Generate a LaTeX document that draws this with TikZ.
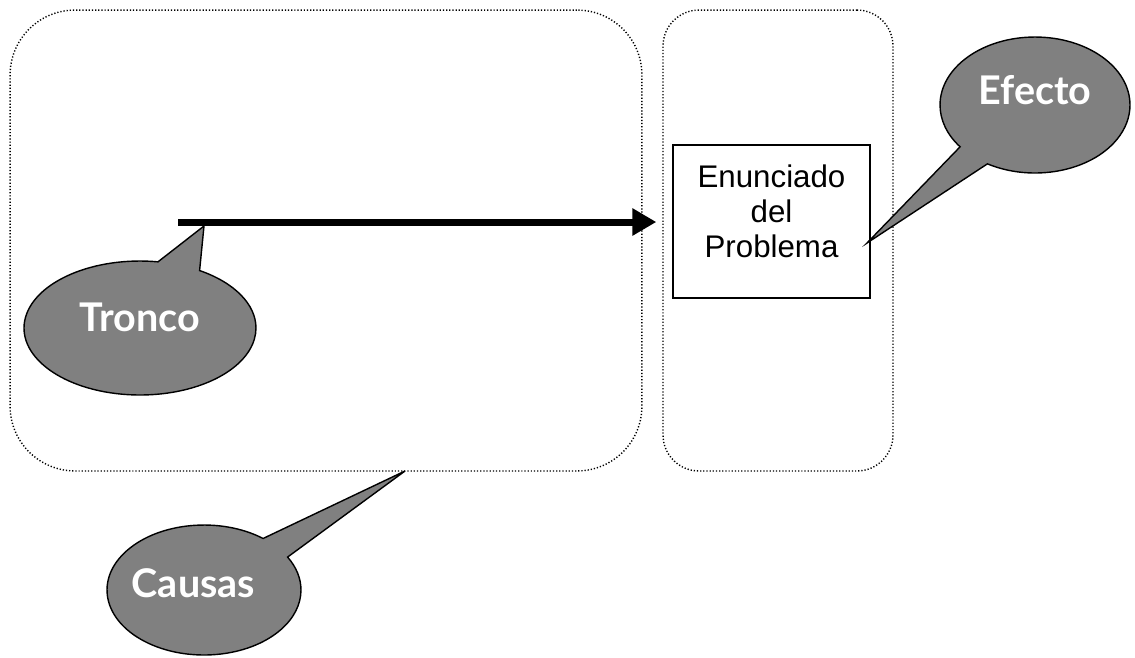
\documentclass[tikz,border=0pt]{standalone}
\usepackage{fontspec}
\setmainfont{Liberation Sans}
\newfontfamily\bubblefont{Lato}
\usetikzlibrary{shapes.callouts,arrows.meta}

\definecolor{bubblegray}{HTML}{808080}

\tikzset{
  region/.style={draw, line width=0.8pt, dash pattern=on 0.7pt off 1.1pt, rectangle},
  bubble/.style={ellipse callout, draw, line width=0.8pt, fill=bubblegray, text=white,
    font=\bubblefont\bfseries\fontsize{22.5}{26}\selectfont, inner sep=0pt, callout pointer arc=22},
  statement/.style={draw, line width=0.8pt, align=center, inner sep=0pt,
    font=\fontsize{17.8}{19.9}\selectfont}
}

\begin{document}
\begin{tikzpicture}[x=0.02cm, y=-0.02cm]
  \useasboundingbox (0,0) rectangle (1135,657);
  % causes and effect regions
  \node[region, rounded corners=1.3cm, minimum width=12.64cm, minimum height=9.22cm] (causes) at (326,240.5) {};
  \node[region, rounded corners=0.72cm, minimum width=4.6cm, minimum height=9.22cm] (effect) at (778,240.5) {};
  \node[statement, minimum width=3.94cm, minimum height=3.06cm, text depth=12pt] (problem) at (771.5,221.5) {Enunciado\\del\\Problema};
  % trunk
  \coordinate (trunkstart) at (178,222);
  \draw[line width=0.14cm, -{Triangle[length=0.48cm, width=0.52cm]}, shorten >=0.32cm] (trunkstart) -- (trunkstart -| problem.west);
  \coordinate (trunkmark) at (204,226);
  \coordinate (effecttip) at (867,243);
  \coordinate (causestip) at (405,471);
  % callouts
  \node[bubble, minimum width=4.64cm, minimum height=2.68cm, text depth=12.6pt, callout absolute pointer={(trunkmark)}] (tronco) at (140,328) {Tronco};
  \node[bubble, minimum width=3.8cm, minimum height=2.72cm, text depth=17pt, callout absolute pointer={(effecttip)}] (efecto) at (1035,105) {Efecto};
  \node[bubble, minimum width=3.88cm, minimum height=2.6cm, text depth=8pt, callout absolute pointer={(causestip)}] (causas) at (204,590) {\hspace*{-12pt}Causas};
\end{tikzpicture}
\end{document}
